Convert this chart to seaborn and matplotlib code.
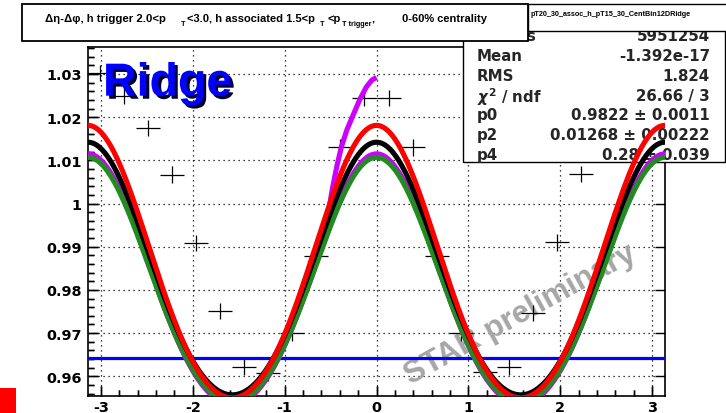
import numpy as np
import pandas as pd
import matplotlib
matplotlib.use("Agg")
import matplotlib.pyplot as plt
import matplotlib.patheffects as pe
from matplotlib.patches import Rectangle
from matplotlib.ticker import MultipleLocator, FuncFormatter, NullFormatter
import seaborn as sns

# ---------------- data ----------------
# Δη-Δφ correlation projected on Δφ, 24 bins over [-π, π]
n_bins = 24
corr_values = [1.0302, 1.0250, 1.0175, 1.0067, 0.9908, 0.9751, 0.9621, 0.9608,
               0.9700, 0.9879, 1.0130, 1.0244, 1.0244, 1.0130, 0.9878, 0.9700,
               0.9609, 0.9621, 0.9746, 0.9910, 1.0068, 1.0175, 1.0250, 1.0302]
corr_errors = [0.0019, 0.0019, 0.0019, 0.0019, 0.0019, 0.0019, 0.0019, 0.0019,
               0.0019, 0.0019, 0.0019, 0.0019, 0.0019, 0.0019, 0.0019, 0.0019,
               0.0019, 0.0019, 0.0019, 0.0019, 0.0019, 0.0019, 0.0019, 0.0019]

# harmonic fit curves: const + c2*cos(2Δφ) + c4*cos(4Δφ)
curve_names = ["magenta", "green", "black", "red"]
curve_const = [0.98050, 0.98035, 0.98295, 0.98435]
curve_cos2 = [0.02900, 0.02835, 0.02925, 0.03155]
curve_cos4 = [0.00200, 0.00200, 0.00200, 0.00220]
curve_colors = ["#cc00ff", "#228b22", "#000000", "#ff0000"]

# near-side rise of the magenta curve
near_side_dphi = [-0.58, -0.53, -0.48, -0.43, -0.38, -0.32, -0.25, -0.18, -0.11, -0.05, 0.0]
near_side_vals = [0.9907, 0.9972, 1.0035, 1.0088, 1.0133, 1.0172, 1.0207, 1.0242,
                  1.0270, 1.0286, 1.0292]

# flat background level
zyam_level = 0.9642

stats_labels = ["Entries", "Mean", "RMS", r"$\chi^2$ / ndf", "p0", "p2", "p4"]
stats_values = ["5951254", "-1.392e-17", "1.824", "26.66 / 3",
                "0.9822 \u00b1 0.0011", "0.01268 \u00b1 0.00222", "0.28 \u00b1 0.039"]

hist_name = "pT20_30_assoc_h_pT15_30_CentBin12DRidge"

x_range = (-np.pi, np.pi)
y_range = (0.95544, 1.03625)

# ---------------- style ----------------
sns.set_style("white")
plt.rcParams["font.family"] = ["DejaVu Sans"]
plt.rcParams["font.weight"] = "bold"
plt.rcParams["axes.unicode_minus"] = False

W, H = 726, 414
frame_rect = [88 / W, 17 / H, 577 / W, 349 / H]
fig = plt.figure(figsize=(W / 100, H / 100), dpi=100, facecolor="white")

# plain frame underneath carrying the minor tick marks
tick_ax = fig.add_axes(frame_rect, zorder=-1)
tick_ax.set_facecolor("white")
tick_ax.set_xlim(*x_range)
tick_ax.set_ylim(*y_range)
tick_ax.xaxis.set_major_locator(MultipleLocator(1))
tick_ax.xaxis.set_minor_locator(MultipleLocator(0.2))
tick_ax.yaxis.set_major_locator(MultipleLocator(0.01))
tick_ax.yaxis.set_minor_locator(MultipleLocator(0.002))
tick_ax.xaxis.set_major_formatter(NullFormatter())
tick_ax.yaxis.set_major_formatter(NullFormatter())
tick_ax.tick_params(which="both", direction="in", colors="black", width=1.0,
                    left=True, bottom=True, right=False, top=False,
                    labelleft=False, labelbottom=False)
tick_ax.tick_params(which="major", length=7.5)
tick_ax.tick_params(which="minor", length=4.5)
for s in tick_ax.spines.values():
    s.set_visible(False)

ax = fig.add_axes(frame_rect)
ax.set_facecolor("none")
ax.set_axisbelow(True)

edges = np.linspace(x_range[0], x_range[1], n_bins + 1)
centers = 0.5 * (edges[:-1] + edges[1:])
half_w = 0.5 * (edges[1] - edges[0])

# data points as crosses
ax.errorbar(centers, corr_values, xerr=half_w, yerr=corr_errors, fmt="none",
            ecolor="black", elinewidth=0.9, capsize=0, zorder=2.6)

# fit curves
dphi = np.linspace(x_range[0], x_range[1], 721)
frames = []
for name, c0, c2, c4 in zip(curve_names, curve_const, curve_cos2, curve_cos4):
    frames.append(pd.DataFrame({
        "dphi": dphi,
        "value": c0 + c2 * np.cos(2 * dphi) + c4 * np.cos(4 * dphi),
        "curve": name,
    }))
curves = pd.concat(frames, ignore_index=True)

ax.plot(near_side_dphi, near_side_vals, color=curve_colors[0], lw=3.7,
        solid_capstyle="butt", zorder=5)
sns.lineplot(data=curves, x="dphi", y="value", hue="curve", hue_order=curve_names,
             palette=dict(zip(curve_names, curve_colors)), linewidth=3.7,
             legend=False, ax=ax, sort=False, estimator=None, zorder=5)

sns.lineplot(x=[edges[0], edges[-1]], y=[zyam_level, zyam_level], color="#0000ff",
             linewidth=2.3, ax=ax, zorder=4.5)

# axes
ax.set_xlim(*x_range)
ax.set_ylim(*y_range)
ax.set_xlabel("")
ax.set_ylabel("")
ax.xaxis.set_major_locator(MultipleLocator(1))
ax.xaxis.set_minor_locator(MultipleLocator(0.2))
ax.yaxis.set_major_locator(MultipleLocator(0.01))
ax.yaxis.set_minor_locator(MultipleLocator(0.002))
ax.xaxis.set_major_formatter(FuncFormatter(lambda v, p: f"{round(v, 2):g}"))
ax.yaxis.set_major_formatter(FuncFormatter(lambda v, p: f"{round(v, 2):g}"))
ax.tick_params(which="both", direction="in", colors="black", labelsize=10.4)
ax.tick_params(which="major", length=7.5, width=1.0, right=True, left=True,
               bottom=True, top=False)
ax.tick_params(which="minor", length=4.5, width=1.0, right=False, left=True,
               bottom=True, top=False)
ax.tick_params(axis="y", pad=4.5)
ax.tick_params(axis="x", pad=3.2)
ax.grid(True, which="major", color="black", linestyle=(0, (1, 3)), linewidth=0.9)
for s in ax.spines.values():
    s.set_color("black")
    s.set_linewidth(1.2)
    s.set_visible(True)

# stats box (sits over the frame, under the fit curves)
box = Rectangle((463 / W, (H - 163) / H), 262 / W, 135 / H, transform=fig.transFigure,
                facecolor="white", edgecolor="black", lw=1.0, zorder=3, clip_on=False)
ax.add_patch(box)
row_y = [36.7, 56.7, 76.7, 96.7, 115.5, 135.5, 155.5]
for lab, val, yy in zip(stats_labels, stats_values, row_y):
    ax.text(477 / W, (H - yy) / H, lab, transform=fig.transFigure, ha="left",
            va="center", fontsize=10.8, fontweight="bold", zorder=3.1, clip_on=False)
    ax.text(710 / W, (H - yy) / H, val, transform=fig.transFigure, ha="right",
            va="center", fontsize=10.8, fontweight="bold", zorder=3.1, clip_on=False)

# Ridge label
ax.text(103 / W, (H - 96.7) / H, "Ridge", transform=fig.transFigure,
        family="Liberation Sans", fontsize=33.5, fontweight="bold", color="#0000ff",
        ha="left", va="baseline", zorder=6,
        path_effects=[pe.withSimplePatchShadow(offset=(2.2, -2.2),
                                               shadow_rgbFace="#000033", alpha=1.0)])

# watermark
ax.text(0.750, 0.236, "STAR preliminary", transform=ax.transAxes,
        family="Liberation Sans", fontsize=22.5, fontweight="bold", color="#a6a6a6",
        rotation=29, rotation_mode="anchor", ha="center", va="center", zorder=2)

# title box
fig.add_artist(Rectangle((22 / W, (H - 42) / H), 506 / W, 37 / H,
                         transform=fig.transFigure, facecolor="white",
                         edgecolor="black", lw=1.3, zorder=1))
title_font = dict(family="Liberation Sans", fontweight="bold", color="black")
base_y = (H - 21.5) / H
sub_y = (H - 26.5) / H
pieces = [
    (45, base_y, "\u0394\u03b7-\u0394\u03c6, h trigger 2.0<p", 8.2),
    (181, sub_y, "T", 5.2),
    (187, base_y, "<3.0, h associated 1.5<p", 8.0),
    (320, sub_y, "T", 5.2),
    (327, base_y, "<p", 8.0),
    (342, sub_y, "T trigger", 5.2),
    (371, base_y, ",", 8.0),
    (402, base_y, "0-60% centrality", 8.0),
]
for px, py, txt, fs in pieces:
    fig.text(px / W, py, txt, ha="left", va="baseline", fontsize=fs, **title_font)

# histogram name box
fig.add_artist(Rectangle((528 / W, (H - 32) / H), 200 / W, 27 / H,
                         transform=fig.transFigure, facecolor="white",
                         edgecolor="black", lw=1.0, zorder=1.2))
fig.text(531 / W, (H - 15) / H, hist_name, ha="left", va="center", fontsize=5.2,
         family="Liberation Sans", fontweight="bold", color="black")

# corner marker
fig.add_artist(Rectangle((0, 0), 16 / W, 25 / H, transform=fig.transFigure,
                         facecolor="#ff0000", edgecolor="none", zorder=1))

fig.savefig("out.png", dpi=100)
